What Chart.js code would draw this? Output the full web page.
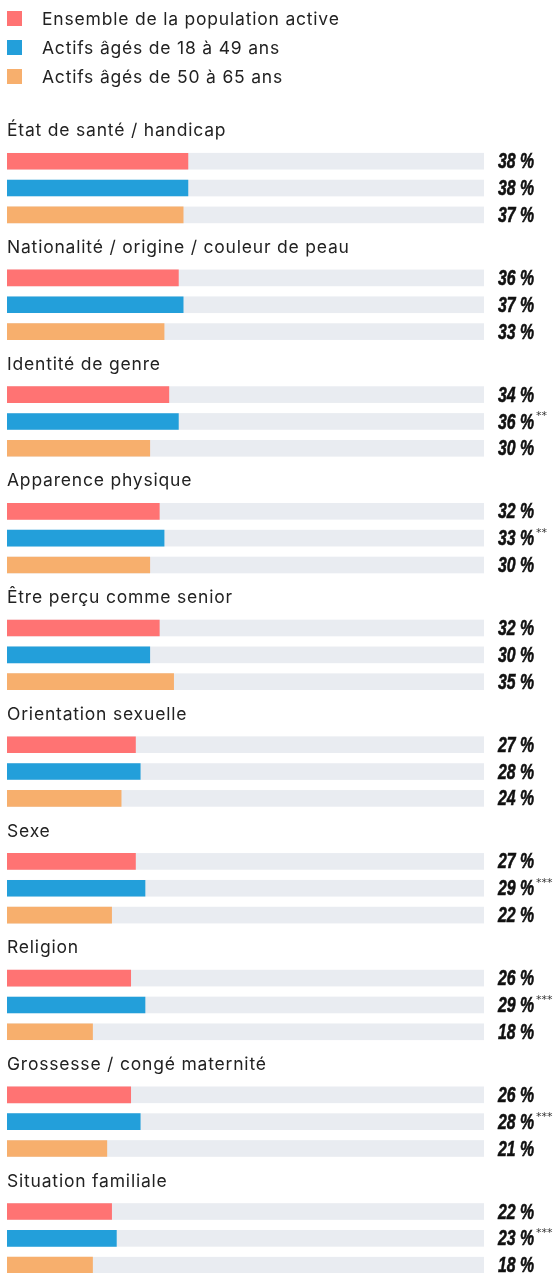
<!DOCTYPE html>
<html lang="fr">
<head>
<meta charset="utf-8">
<script src="https://cdn.jsdelivr.net/npm/chart.js@4/dist/chart.umd.min.js"></script>
<style>
  html, body { margin: 0; padding: 0; background: #fff; overflow: hidden; }
  #wrap { position: relative; width: 557px; height: 1273px; }
  #legende { position: absolute; left: 7px; top: 4px; font: 17.5px Inter, Roboto, sans-serif; letter-spacing: 0.8px; color: #222; }
  #legende div { height: 29px; display: flex; align-items: center; }
  #legende span.box { width: 15px; height: 15px; display: inline-block; margin-right: 20px; }
  canvas { position: absolute; left: 0; top: 0; }
</style>
</head>
<body>
<div id="wrap">
  <canvas id="graphique" width="557" height="1300"></canvas>
  <div id="legende"></div>
</div>
<script>
// Catégories de discrimination
const categories = [
  'État de santé / handicap',
  'Nationalité / origine / couleur de peau',
  'Identité de genre',
  'Apparence physique',
  'Être perçu comme senior',
  'Orientation sexuelle',
  'Sexe',
  'Religion',
  'Grossesse / congé maternité',
  'Situation familiale'
];

// Valeurs en %
const ensemble = [38, 36, 34, 32, 32, 27, 27, 26, 26, 22];
const actifs18a49 = [38, 37, 36, 33, 30, 28, 29, 29, 28, 23];
const actifs50a65 = [37, 33, 30, 30, 35, 24, 22, 18, 21, 18];

// Seuils de significativité (série 18-49 ans)
const notes18a49 = ['', '', '**', '**', '', '', '***', '***', '***', '***'];

const series = [
  { label: 'Ensemble de la population active', data: ensemble, color: '#ff7373', notes: [] },
  { label: 'Actifs âgés de 18 à 49 ans', data: actifs18a49, color: '#239fda', notes: notes18a49 },
  { label: 'Actifs âgés de 50 à 65 ans', data: actifs50a65, color: '#f7af6d', notes: [] }
];

// Légende HTML
const legende = document.getElementById('legende');
series.forEach(s => {
  const ligne = document.createElement('div');
  ligne.innerHTML = '<span class="box" style="background:' + s.color + '"></span>' + s.label;
  legende.appendChild(ligne);
});

const PISTE = '#e9ecf1';
const FONT_TITRE = '17.5px Inter, Roboto, sans-serif';
const FONT_VALEUR = 'italic bold 22px "Liberation Sans", Arial, sans-serif';
const ETROIT = 0.72; // écrasement horizontal des valeurs (police condensée)

// Fond gris derrière chaque barre + titres des groupes
const decor = {
  id: 'decor',
  beforeDatasetsDraw(chart) {
    const ctx = chart.ctx;
    const area = chart.chartArea;
    const x = chart.scales.x;
    const y = chart.scales.y;
    ctx.save();
    ctx.fillStyle = PISTE;
    chart.data.datasets.forEach((ds, i) => {
      chart.getDatasetMeta(i).data.forEach(bar => {
        const p = bar.getProps(['y', 'height'], true);
        ctx.fillRect(area.left, p.y - p.height / 2, x.getPixelForValue(100) - area.left, p.height);
      });
    });
    ctx.fillStyle = '#222';
    ctx.font = FONT_TITRE;
    ctx.letterSpacing = '0.8px';
    ctx.textBaseline = 'middle';
    ctx.textAlign = 'left';
    categories.forEach((c, i) => {
      ctx.fillText(c, area.left, y.getPixelForValue(i) - 57);
    });
    ctx.restore();
  },
  afterDatasetsDraw(chart) {
    const ctx = chart.ctx;
    const xr = chart.scales.x.getPixelForValue(100) + 14;
    chart.data.datasets.forEach((ds, i) => {
      chart.getDatasetMeta(i).data.forEach((bar, j) => {
        const p = bar.getProps(['y'], true);
        const txt = ds.data[j] + ' %';
        ctx.save();
        ctx.fillStyle = '#111';
        ctx.strokeStyle = '#111';
        ctx.lineWidth = 0.6;
        ctx.textBaseline = 'middle';
        ctx.textAlign = 'left';
        ctx.font = FONT_VALEUR;
        const w = ctx.measureText(txt).width * ETROIT;
        ctx.translate(xr, p.y + 1);
        ctx.scale(ETROIT, 1);
        ctx.fillText(txt, 0, 0);
        ctx.strokeText(txt, 0, 0);
        ctx.restore();
        const note = series[i].notes[j];
        if (note) {
          ctx.save();
          ctx.font = '11px "DejaVu Sans", sans-serif';
          ctx.fillStyle = '#333';
          ctx.textBaseline = 'middle';
          ctx.fillText(note, xr + w + 2, p.y - 5);
          ctx.restore();
        }
      });
    });
  }
};

new Chart(document.getElementById('graphique'), {
  type: 'bar',
  data: {
    labels: categories,
    datasets: series.map(s => ({
      label: s.label,
      data: s.data,
      backgroundColor: s.color,
      borderWidth: 0,
      categoryPercentage: 0.69,
      barPercentage: 0.62
    }))
  },
  options: {
    indexAxis: 'y',
    responsive: false,
    animation: false,
    devicePixelRatio: 1,
    layout: { padding: { left: 7, right: 73, top: 129.7, bottom: 3.3 } },
    plugins: {
      legend: { display: false },
      tooltip: { enabled: false }
    },
    scales: {
      x: { min: 0, max: 100, display: false },
      y: { display: false }
    }
  },
  plugins: [decor]
});
</script>
</body>
</html>
